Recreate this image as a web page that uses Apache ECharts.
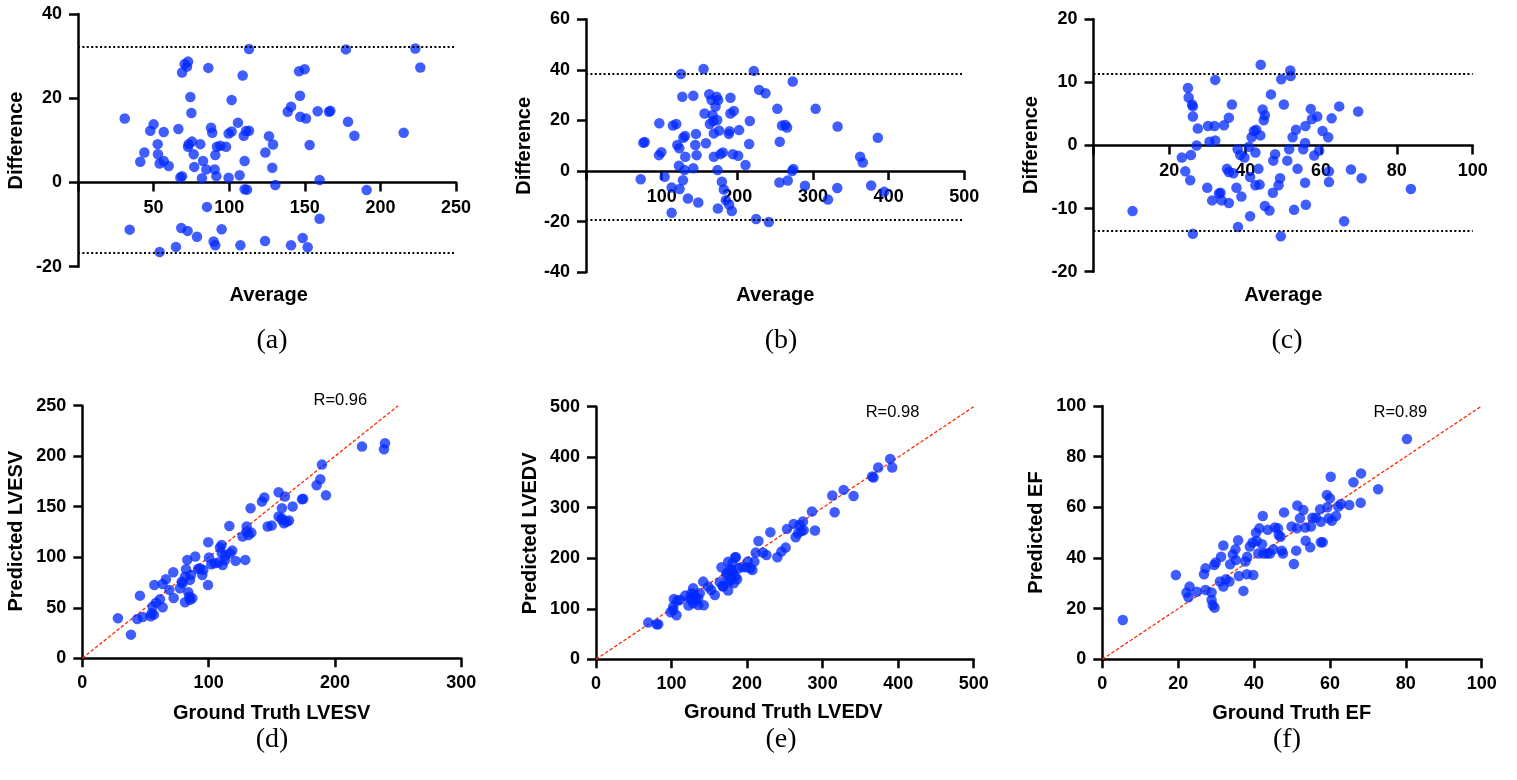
<!DOCTYPE html>
<html>
<head>
<meta charset="utf-8">
<script src="https://cdn.jsdelivr.net/npm/echarts@6/dist/echarts.min.js"></script>
<style>
html,body{margin:0;padding:0;background:#fff;}
#chart{width:1517px;height:780px;}
</style>
</head>
<body>
<div id="chart"></div>
<script>
// ---------- DATA ----------
// (a) LVESV Bland-Altman
const avgA = [30.9,34.2,41.2,43.9,47.8,50,52.7,52.9,54,54,56.7,56.7,60,64.8,66.4,67.7,68.8,68.3,68.8,70.5,72.1,72.8,72.5,73.2,72.8,74.3,75,75.4,76.5,76.9,78.7,80.9,82,82.7,84.9,85.3,86.2,88,88.8,89.7,90.4,90.8,90.8,91.5,91.9,94.1,95,97.9,99.6,99.6,101.6,101.6,105.8,106.9,107.4,108.9,109.6,110.2,110.2,111.1,111.8,113.1,113.1,123.7,123.9,126.3,128.5,129,130.5,138.7,140.9,140.9,146.2,146.8,147,148.6,149.9,150.8,151.9,153.2,158.5,159.8,159.8,166,166.9,177.2,178.6,182.8,190.9,215.4,223.1,226.4];
const diffA = [15.2,-11.2,4.9,7.1,12.3,13.8,9.1,6.7,4.5,-16.5,12.0,5.1,3.9,-15.3,12.7,1.2,1.5,-10.8,26.1,28.1,27.5,28.7,-11.5,9.1,8.5,20.3,16.5,9.7,6.7,3.7,-12.9,9.1,1.0,5.1,3.1,-5.8,27.2,13.0,11.8,-14.0,3.1,6.5,-14.9,1.5,8.5,8.7,-11.1,8.5,1.1,11.6,12.1,19.6,14.2,1.7,-14.9,25.4,11.1,-1.6,5.1,12.2,-1.7,12.3,31.7,-13.9,7.1,11.0,3.5,9.0,-0.6,16.8,18.0,-14.9,26.4,20.6,15.6,-13.2,26.9,15.2,-15.4,8.9,16.9,0.6,-8.6,16.8,17.0,31.6,14.4,11.1,-1.8,11.8,31.8,27.3];
const loaA = [32.3, -16.8];

// (b) LVEDV Bland-Altman
const avgB = [72.3,75.8,77.6,96.9,96.5,99.6,103.9,113.2,113.2,114.9,119.3,120.7,122.9,123.3,123.7,125.5,127.3,128.1,128.6,130.8,130.3,131.2,134.7,141.8,141.8,144.4,145.3,146.2,148.4,155.4,156.7,158.5,162.9,163.7,165.9,167.3,168.1,169,169,171.2,172.5,173.4,173.8,174.3,174.7,176,177.8,179.6,180.9,182.2,184.8,188.8,189.7,189.2,190.9,190.9,192.7,194,195.4,201.1,202.4,210.8,215.6,216.5,221.8,224.9,228.8,237.2,241.6,252.9,255.6,256.1,259.1,263.5,265.7,266.6,272.3,274.1,273.2,289.4,303.5,319.8,332.1,332.5,362.3,365.8,376.9,385.7,394.1];
const diffB = [-3.2,11.2,11.5,18.9,6.3,7.5,-2.2,-6.5,-16.5,18.0,18.6,10.3,2.1,9.0,-7.1,38.4,29.4,-3.6,13.2,13.9,0.4,5.7,-10.8,29.8,1.1,10.3,14.7,6.3,-12.4,40.4,22.8,11.0,30.4,18.6,28.1,22.2,19.8,5.7,14.9,25.5,29.4,20.2,0.4,-14.8,28.1,16.0,6.7,-4.2,7.4,-7.3,-11.5,14.7,15.8,-13.2,29.0,22.8,-15.8,6.7,23.8,6.1,16.2,2.4,10.7,19.8,39.6,-18.9,32.1,30.8,-20.1,24.6,-4.5,11.6,18.0,18.2,17.2,-3.7,0,0.8,35.4,-5.8,24.6,-11.2,-6.7,17.6,5.7,3.4,-5.7,13.2,-8.2];
const loaB = [38.3, -19.3];

// (c) EF Bland-Altman
const avgC = [10.3,23.3,24.2,24.9,25.1,25.5,25.7,26,26.2,26.2,26.2,27.2,27.5,30,30.2,30.6,31.3,31.9,32.1,32.1,33.1,33.5,33.8,34.4,35.2,35.7,35.7,35.7,36.5,36.9,37.7,38,38.1,38.7,39,39.8,41,41.3,41.3,41.7,42.3,42.7,42.9,42.7,43.5,43.8,44,44.1,44.6,44.9,45.2,45.2,46.4,46.8,47.3,47.4,47.9,48.8,49.2,49.4,49.5,50.2,51.1,51.6,51.9,52,52.5,52.9,53.4,53.8,55.3,55.8,55.8,55.9,56,57.3,57.6,58.2,59,59.5,60.4,61.9,62.1,62.1,62.8,64.8,66.1,67.9,69.8,70.7,83.7];
const diffC = [-10.4,-1.9,-4.1,9.1,7.6,-5.5,-1.5,6.5,6.2,4.6,-14.0,0,2.7,-6.7,3.1,0.6,-8.7,3.1,10.4,0.8,-7.6,-7.5,-8.7,3.2,-3.7,-4.2,4.4,-9.1,6.5,-4.4,-6.7,-0.6,-12.9,-1.5,-8.1,-1.9,-0.2,-5.0,-11.2,1.3,2.3,-1.1,2.5,-6.3,-3.7,-6.2,1.6,12.8,5.7,4.0,4.8,-9.6,-10.3,8.1,-7.5,-2.4,-1.4,-6.3,-5.2,-14.4,10.5,6.5,-2.4,-0.6,11.9,11.0,1.3,-10.2,2.5,-3.7,-0.6,0.4,-5.9,3.1,-9.4,5.8,4.2,-1.6,4.6,-0.8,2.3,1.3,-4.1,-5.8,4.3,6.2,-12.0,-3.8,5.4,-5.2,-6.9];
const loaC = [11.3, -13.55];

// (d) LVESV correlation
const gtD = [28.2,38.5,43.5,45.6,47.8,54.1,55.7,56.7,57,58.3,61.5,63.6,63.6,66.2,68.9,72,72.3,77.3,79.4,81.3,82.1,83.1,83.9,85.2,85.2,86,87.1,89.4,91.6,93.1,95,95.8,99.5,99.7,100.3,102.1,104.7,107.7,109,110.3,111.1,113.2,116.4,116.9,118.7,121.4,126.9,129,130.1,131.7,133.2,133.8,142.2,144.1,146.7,149.9,155.4,155.4,158,158,159.6,160.4,163.6,166.5,173.9,174.9,185.5,188.4,189.7,192.9,221.4,238.8,239.6,54.9,78.7,81.3,84.7,110.4,113,130.2,157.9,161.8];
const predD = [39.6,23.4,38.9,62.0,40.9,41.6,51.2,43.2,72.6,55.1,58.4,50.5,73.6,78.2,67.7,85.1,59.7,69.3,74.3,55.4,88.1,97.4,65.3,77.6,57.8,82.5,59.4,100.7,88.4,89.1,82.5,87.5,72.6,114.9,99.7,93.1,94.1,94.7,109.6,112.2,92.4,101.7,131.0,104.0,106.6,96.4,120.5,97.4,130.4,122.1,148.5,124.4,155.1,159.1,130.4,131.4,164.4,140.3,148.5,137.0,133.7,160.1,136.3,150.2,157.4,157.8,171.3,177.2,191.7,161.4,209.6,206.9,212.9,44.6,75.8,80.8,61,104,97.3,125.3,138.6,135.2];

// (e) LVEDV correlation
const gtE = [69.2,80.2,82.4,98.7,102.2,103.1,106.6,107.5,111,118.1,122.5,124.2,126.4,128.6,128.6,130.8,135.2,137.4,141.9,142.7,148.5,152.4,157.3,163.9,166.1,168.3,172.7,174.9,176.2,177.1,179.3,180.6,181.5,182.4,184.1,184.6,186.8,188.5,193.8,199.1,200.9,204.4,207,209.7,211.5,215,221.1,225.6,230.8,240.1,245.4,251.1,252.9,261.7,264.3,267.4,269.6,271.8,274,274.9,285.9,289.9,312.8,315.9,327.8,341,365.6,367.4,373.6,389.4,392.1,102.2,129.6,126.6,132.3,135.3,175,185.2,172.9,177.2,167.6,179.5];
const predE = [72.6,69.3,69.3,93.1,97.7,119.5,87.1,116.2,117.5,126.1,106.3,120.8,130.7,140.6,110.9,124.1,120.8,130.7,153.8,106.9,143.9,137.3,127.4,152.5,182.2,143.9,167.0,136.0,153.8,176.9,160.4,190.1,171.6,150.5,202.0,163.7,158.4,180.2,182.2,182.2,193.4,180.2,176.9,193.4,211.2,234.3,211.2,206.6,251.5,202.0,213.2,221.1,258.1,268.0,241.6,249.5,266.0,254.1,272.6,255.4,292.4,254.8,324.1,291.1,335.3,323.4,361.7,359.7,379.5,396.7,379.5,104.2,127.3,117.4,117.4,107.5,193.3,202,170.3,157,145,176.8];

// (f) EF correlation
const gtF = [5.4,19.4,22.2,22.7,23,24.9,26.8,27.2,27.2,28.8,28.8,29.1,29.5,29.6,29.9,31,31.3,31.9,31.9,32.6,33.5,33.7,34.4,35.1,35.2,35.8,36,37.2,37.7,38.1,38.2,38.9,39.6,39.8,40.5,40.7,41.1,41.4,42.1,42.3,42.5,43.4,43.6,44.2,45.1,45.5,46.3,46.5,47,47.3,47.6,47.9,49.9,50.5,51.1,51.3,51.4,52.1,53,53.5,53.6,54.8,55,55.4,56.3,57.4,57.6,57.6,58.1,59.2,59.3,59.7,60,60.2,60.5,61.6,62.2,62.9,65.1,66.2,68.1,68.2,72.7,80.3];
const predF = [15.5,33.3,26.4,24.5,28.7,26.7,33.6,35.9,27.4,26.4,23.4,21.4,37.2,20.4,38.2,30.7,40.5,28.7,44.9,31.6,30.7,37.5,41.4,43.4,39.2,47.0,32.9,27.0,38.6,33.6,40.5,44.5,46.1,33.3,50.0,46.7,41.8,51.7,45.4,56.6,41.8,41.8,51.1,41.8,43.4,52.0,51.7,49.1,48.4,42.9,41.8,58.0,52.4,37.6,42.9,51.7,60.7,55.7,58.9,52.0,46.8,44.2,52.4,55.9,55.9,59.2,54.3,46.2,46.2,64.9,60.0,55.7,63.6,72.1,54.7,56.6,60.3,61.3,60.9,69.9,61.8,73.4,67.1,87.0];

// axes ranges: [min, max, interval]
const xRanges = [[0,250,50],[0,500,100],[0,100,20],[0,300,100],[0,500,100],[0,100,20]];
const yRanges = [[-20,40,20],[-40,60,20],[-20,20,10],[0,250,50],[0,500,100],[0,100,20]];
const identityEnd = [250, 500, 100];
const rLabels = ['R=0.96', 'R=0.98', 'R=0.89'];
const xTitles = ['Average','Average','Average','Ground Truth LVESV','Ground Truth LVEDV','Ground Truth EF'];
const yTitles = ['Difference','Difference','Difference','Predicted LVESV','Predicted LVEDV','Predicted EF'];
const panelLabels = ['(a)','(b)','(c)','(d)','(e)','(f)'];

// ---------- LAYOUT ----------
const grids = [
  {left:78, top:14, width:378, height:252.7},
  {left:586, top:19.3, width:378.3, height:253},
  {left:1093.5, top:19.3, width:379.2, height:252.4},
  {left:82.3, top:405.7, width:379, height:252.6},
  {left:596, top:406.7, width:377.7, height:252.6},
  {left:1102.3, top:406, width:379.4, height:253.3}
];
const xTitlePos = [[268.7,295],[775.3,295],[1283.3,295],[271.7,713],[783.3,712],[1291.7,713]];
const yTitlePos = [[16.7,140.5],[524,145.8],[1031.7,145],[16.7,531.2],[530.5,533.3],[1036.7,532.5]];
const rPos = [[340.3,400.7],[892.5,412.3],[1400.3,412.3]];
const panelPos = [[272,340.7],[781,340.7],[1287,340.7],[272,740],[781,740],[1287,740]];

const FONT = '"Liberation Sans", Arial, sans-serif';
const axisLineStyle = {color:'#000', width:2.5};

const pairs = (xs, ys) => xs.slice(0, Math.min(xs.length, ys.length)).map((v,i)=>[v, ys[i]]);
const scatterSets = [pairs(avgA,diffA), pairs(avgB,diffB), pairs(avgC,diffC), pairs(gtD,predD), pairs(gtE,predE), pairs(gtF,predF)];
const loas = [loaA, loaB, loaC];

// x axis sits at y = 0 : shift it up from the grid bottom by the pixel distance of zero
const xAxes = xRanges.map((r,i)=>{
  const yr = yRanges[i];
  const zeroOffset = -grids[i].height * (0 - yr[0]) / (yr[1] - yr[0]);
  return {
    type:'value', gridIndex:i, min:r[0], max:r[1], interval:r[2], position:'bottom',
    offset: zeroOffset,
    axisLine:{show:true, onZero:false, lineStyle:axisLineStyle},
    axisTick:{show:true, length:9, lineStyle:{color:'#000', width:2.5}},
    splitLine:{show:false},
    axisLabel:{color:'#000', fontFamily:FONT, fontWeight:'bold', fontSize:18, margin:i<3?17:16,
      formatter: (v)=> (i<3 && v===0) ? '' : String(v)}
  };
});
const yAxes = yRanges.map((r,i)=>({
  type:'value', gridIndex:i, min:r[0], max:r[1], interval:r[2], position:'left',
  axisLine:{show:true, onZero:false, lineStyle:axisLineStyle},
  axisTick:{show:true, length:9, lineStyle:{color:'#000', width:2.5}},
  splitLine:{show:false},
  axisLabel:{color:'#000', fontFamily:FONT, fontWeight:'bold', fontSize:18, margin:16}
}));

const series = [];
scatterSets.forEach((d,i)=>{
  if (i >= 3) {
    const e = identityEnd[i-3];
    series.push({
      type:'line', xAxisIndex:i, yAxisIndex:i, data:[[0,0],[e,e]], symbol:'none', silent:true, z:1,
      lineStyle:{color:'#ff2a00', width:1.3, type:[3.5,2]}
    });
  }
  const s = {
    type:'scatter', xAxisIndex:i, yAxisIndex:i, data:d, symbolSize:10.5, z:2,
    itemStyle:{color:'rgb(0,40,255)', opacity:0.75}
  };
  if (i < 3) {
    s.markLine = {
      silent:true, symbol:'none', label:{show:false}, animation:false,
      lineStyle:{color:'#000', type:[2,2.4], width:2},
      data: loas[i].map(v=>({yAxis:v}))
    };
  }
  series.push(s);
});

const graphic = [];
const txt = (x,y,text,font,rot)=>({
  type:'text', x:x, y:y, rotation:rot||0, silent:true,
  style:{text:text, font:font, fill:'#000', align:'center', verticalAlign:'middle', textAlign:'center', textVerticalAlign:'middle'}
});
xTitles.forEach((t,i)=>graphic.push(txt(xTitlePos[i][0], xTitlePos[i][1], t, 'bold 20px '+FONT)));
yTitles.forEach((t,i)=>graphic.push(txt(yTitlePos[i][0], yTitlePos[i][1], t, 'bold 20px '+FONT, Math.PI/2)));
rLabels.forEach((t,i)=>graphic.push(txt(rPos[i][0], rPos[i][1], t, '16.5px '+FONT)));
panelLabels.forEach((t,i)=>graphic.push(txt(panelPos[i][0], panelPos[i][1], t, '28px "Liberation Serif", "Times New Roman", serif')));

const chart = echarts.init(document.getElementById('chart'), null, {renderer:'canvas'});
chart.setOption({
  animation:false,
  backgroundColor:'#fff',
  grid: grids.map(g=>Object.assign({containLabel:false}, g)),
  xAxis: xAxes,
  yAxis: yAxes,
  series: series,
  graphic: graphic
});
</script>
</body>
</html>
